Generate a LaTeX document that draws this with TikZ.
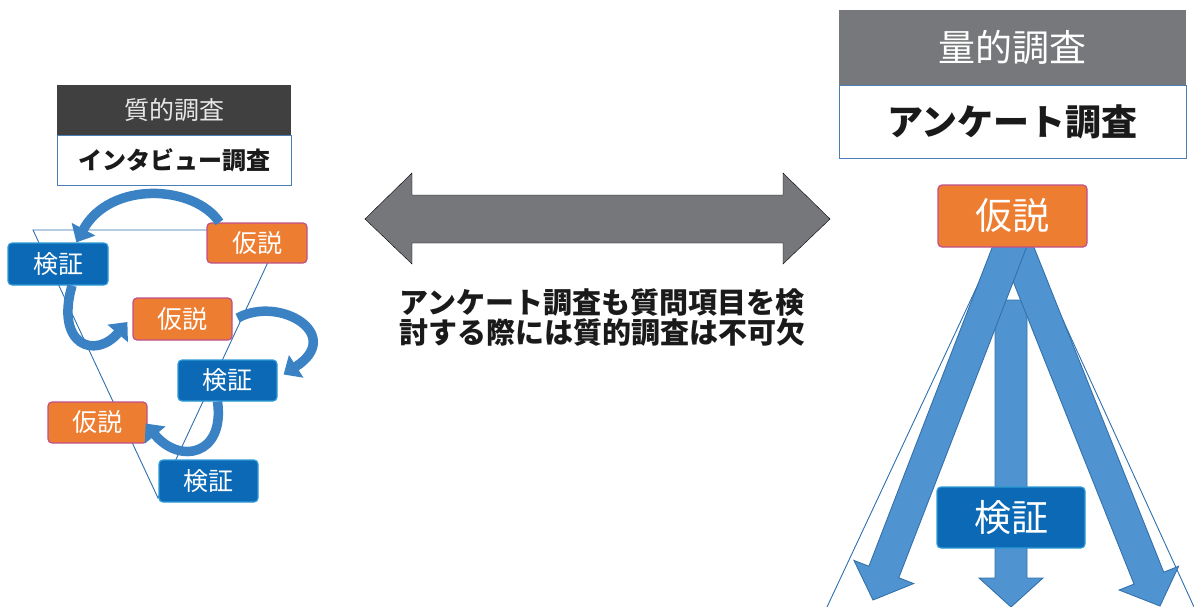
\documentclass[tikz,border=0pt]{standalone}
\usepackage{fontspec}
\newfontfamily\jp{Noto Sans CJK JP}
\usetikzlibrary{arrows.meta,calc}
\definecolor{orangeF}{HTML}{ED7D31}
\definecolor{orangeD}{HTML}{C0508A}
\definecolor{blueF}{HTML}{0B69B5}
\definecolor{blueD}{HTML}{2E9AD6}
\definecolor{hdrL}{HTML}{404040}
\definecolor{hdrR}{HTML}{77787B}
\definecolor{hdrTxt}{HTML}{E6E6E6}
\definecolor{frameB}{HTML}{4A7EB5}
\definecolor{triB}{HTML}{2E6FAE}
\definecolor{arcB}{HTML}{3A82C4}
\definecolor{blkF}{HTML}{4F94D0}
\definecolor{blkD}{HTML}{3471AA}
\definecolor{dblA}{HTML}{76777B}
\definecolor{txtK}{HTML}{1A1A1A}
\newcommand{\blockarr}[5]{%
  \coordinate (ba-h) at ($(#2)!#5!(#1)$);
  \draw[blockarrow] ($(#1)!#3!90:(#2)$) -- ($(ba-h)!#3!90:(#2)$) -- ($(ba-h)!#4!90:(#2)$)
    -- (#2) -- ($(ba-h)!#4!-90:(#2)$) -- ($(ba-h)!#3!-90:(#2)$) -- ($(#1)!#3!-90:(#2)$) -- cycle;}
\begin{document}
\begin{tikzpicture}[x=1pt,y=-1pt,
  box/.style={rounded corners=4pt, inner sep=0pt, text=white, line width=1.2pt},
  hyp/.style={box, fill=orangeF, draw=orangeD},
  ver/.style={box, fill=blueF, draw=blueD},
  smalllbl/.style={font=\jp\fontsize{25}{25}\selectfont, minimum width=99pt, minimum height=41pt},
  biglbl/.style={font=\jp\fontsize{37}{37}\selectfont, minimum width=148pt, minimum height=61pt},
  header/.style={inner sep=0pt, text=hdrTxt},
  titlebox/.style={inner sep=0pt, draw=frameB, line width=0.8pt, fill=white, text=txtK},
  tri/.style={draw=triB, line width=0.9pt},
  arcarrow/.style={draw=arcB, line width=9.5pt, -{Triangle[width=26pt,length=15pt]}},
  blockarrow/.style={fill=blkF, draw=blkD, line width=0.9pt, line join=miter},
  dblarrow/.style={fill=dblA}
]
\useasboundingbox (0,0) rectangle (1194,607);

% ---------- left: qualitative ----------
\node[header, fill=hdrL, minimum width=234pt, minimum height=50pt,
      font=\jp\fontsize{25}{25}\selectfont] (lhdr) at (174,110) {質的調査};
\node[titlebox, minimum width=234pt, minimum height=50pt,
      font=\jp\bfseries\fontsize{24}{24}\selectfont] (ltitle) at (174,160) {インタビュー調査};

\coordinate (tA) at (33,230);
\coordinate (tB) at (283,230);
\coordinate (tC) at (158,498);
\draw[tri] (tA) -- (tB) -- (tC) -- cycle;

\node[ver, smalllbl, minimum width=100pt, minimum height=42pt] (lv1) at (58,264) {検証};
\node[hyp, smalllbl, minimum width=100pt, minimum height=40pt] (lh1) at (257,243) {仮説};
\node[hyp, smalllbl, minimum height=42pt] (lh2) at (182.5,319) {仮説};
\node[ver, smalllbl] (lv2) at (227.5,380.5) {検証};
\node[hyp, smalllbl] (lh3) at (97.5,422.5) {仮説};
\node[ver, smalllbl, minimum height=42pt] (lv3) at (208.5,481) {検証};

\draw[arcarrow] ($(lh1.north west)+(13,0)$) .. controls (195,185) and (110,180) .. ($(lv1.north west)+(69,0)$);
\draw[arcarrow] ($(lv1.south)+(14,0)$) .. controls (55,345) and (95,360) .. ($(lh2.west)+(-5,3)$);
\draw[arcarrow] ($(lh2.east)+(5,-1)$) .. controls (280,295) and (345,335) .. ($(lv2.east)+(6,-6)$);
\draw[arcarrow] ($(lv2.south)+(-10,0)$) .. controls (225,455) and (180,465) .. ($(lh3.east)+(-2,1)$);

% ---------- centre ----------
\draw[dblarrow] (365,219) -- (412,173) -- (412,195) -- (783,195) -- (783,173) -- (830,219)
  -- (783,264) -- (783,243) -- (412,243) -- (412,264) -- cycle;
\node[align=center, inner sep=0pt, text=txtK, font=\jp\bfseries\fontsize{29}{30}\selectfont] (note) at (602,318)
  {アンケート調査も質問項目を検\\討する際には質的調査は不可欠};

% ---------- right: quantitative ----------
\node[header, fill=hdrR, minimum width=347pt, minimum height=75pt,
      font=\jp\fontsize{37}{37}\selectfont, text=white] (rhdr) at (1012.5,47.5) {量的調査};
\node[titlebox, minimum width=347pt, minimum height=73pt,
      font=\jp\bfseries\fontsize{36}{36}\selectfont] (rtitle) at (1012.5,121.5) {アンケート調査};

\coordinate (rtA) at (995,248);
\coordinate (rtL) at (827,607);
\coordinate (rtB) at (1030,248);
\coordinate (rtR) at (1194,607);
\draw[tri] (rtA) -- (rtL);
\draw[tri] (rtB) -- (rtR);

\coordinate (caS) at (1011,300);
\coordinate (caE) at (1011,607);
\coordinate (raS) at (1013,238);
\coordinate (raE) at (1160,606);
\coordinate (laS) at (1013,238);
\coordinate (laE) at (873,600);
\blockarr{caS}{caE}{16pt}{32pt}{29pt}
\blockarr{raS}{raE}{16pt}{32pt}{30pt}
\blockarr{laS}{laE}{16pt}{32pt}{30pt}

\node[hyp, biglbl, minimum width=149pt, minimum height=62pt] (rh) at (1012.5,216) {仮説};
\node[ver, biglbl] (rv) at (1011,517.5) {検証};
\end{tikzpicture}
\end{document}
